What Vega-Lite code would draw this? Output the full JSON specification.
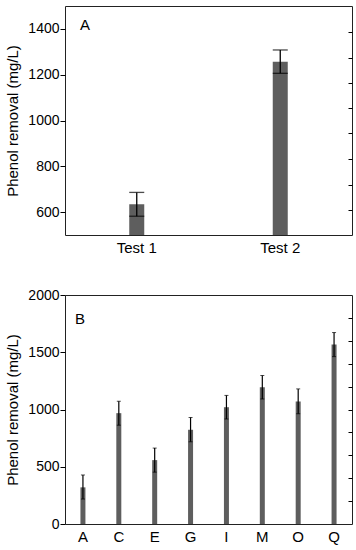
{
  "$schema": "https://vega.github.io/schema/vega-lite/v6.json",
  "background": "white",
  "padding": 5,
  "spacing": 31,
  "config": {
    "font": "Liberation Sans",
    "view": {"stroke": "#222", "strokeWidth": 1},
    "axis": {
      "grid": false,
      "domain": false,
      "labelFont": "Liberation Sans",
      "labelFontSize": 15,
      "labelColor": "#000",
      "titleFont": "Liberation Sans",
      "titleFontSize": 15,
      "titleFontWeight": "normal",
      "titleColor": "#000",
      "tickColor": "#000"
    }
  },
  "vconcat": [
    {
      "width": 287,
      "height": 229,
      "data": {"values": [
        {"test": "Test 1", "mean": 634, "lo": 582, "hi": 686},
        {"test": "Test 2", "mean": 1257, "lo": 1206, "hi": 1308}
      ]},
      "resolve": {"axis": {"y": "independent"}},
      "layer": [
        {
          "mark": {"type": "bar", "color": "#5e5e5e", "size": 15, "clip": true},
          "encoding": {
            "x": {"field": "test", "type": "nominal", "scale": {"paddingInner": 0, "paddingOuter": 0},
                  "axis": {"title": null, "labelAngle": 0, "ticks": false, "labelPadding": 5}},
            "y": {"field": "mean", "type": "quantitative", "scale": {"domain": [500, 1500], "nice": false, "zero": false},
                  "axis": {"orient": "left", "format": "d", "labelFontSize": 14, "title": "Phenol removal (mg/L)", "values": [600, 800, 1000, 1200, 1400], "tickSize": 5, "labelPadding": 1, "titlePadding": 7}}
          }
        },
        {
          "mark": {"type": "rule", "color": "#000", "strokeWidth": 1.3},
          "encoding": {
            "x": {"field": "test", "type": "nominal"},
            "y": {"field": "lo", "type": "quantitative", "axis": null},
            "y2": {"field": "hi"}
          }
        },
        {
          "mark": {"type": "tick", "color": "#000", "size": 15, "thickness": 1.3},
          "encoding": {
            "x": {"field": "test", "type": "nominal"},
            "y": {"field": "lo", "type": "quantitative",
                  "axis": {"orient": "right", "title": null, "labels": false, "tickSize": -4, "values": [610, 720, 830, 945, 1055, 1165, 1275, 1385]}}
          }
        },
        {
          "mark": {"type": "tick", "color": "#000", "size": 15, "thickness": 1.3},
          "encoding": {
            "x": {"field": "test", "type": "nominal"},
            "y": {"field": "hi", "type": "quantitative", "axis": null}
          }
        },
        {
          "data": {"values": [{"panel": "A"}]},
          "mark": {"type": "text", "align": "left", "baseline": "alphabetic", "fontSize": 15, "font": "Liberation Sans", "color": "#000", "dx": 15},
          "encoding": {
            "x": {"datum": "Test 1", "type": "nominal", "bandPosition": 0},
            "y": {"datum": 1394, "type": "quantitative", "axis": null},
            "text": {"field": "panel"}
          }
        }
      ]
    },
    {
      "width": 287,
      "height": 229,
      "data": {"values": [
        {"cat": "A", "mean": 320, "lo": 218, "hi": 428},
        {"cat": "C", "mean": 968, "lo": 863, "hi": 1072},
        {"cat": "E", "mean": 558, "lo": 453, "hi": 663},
        {"cat": "G", "mean": 823, "lo": 718, "hi": 930},
        {"cat": "I", "mean": 1020, "lo": 917, "hi": 1123},
        {"cat": "M", "mean": 1195, "lo": 1092, "hi": 1297},
        {"cat": "O", "mean": 1070, "lo": 963, "hi": 1180},
        {"cat": "Q", "mean": 1567, "lo": 1462, "hi": 1672}
      ]},
      "resolve": {"axis": {"y": "independent"}},
      "layer": [
        {
          "mark": {"type": "bar", "color": "#5e5e5e", "size": 5, "clip": true},
          "encoding": {
            "x": {"field": "cat", "type": "nominal", "sort": null, "scale": {"paddingInner": 0, "paddingOuter": 0},
                  "axis": {"title": null, "labelAngle": 0, "ticks": false, "labelPadding": 5}},
            "y": {"field": "mean", "type": "quantitative", "scale": {"domain": [0, 2000], "nice": false},
                  "axis": {"orient": "left", "format": "d", "labelFontSize": 14, "title": "Phenol removal (mg/L)", "values": [0, 500, 1000, 1500, 2000], "tickSize": 5, "labelPadding": 1, "titlePadding": 7}}
          }
        },
        {
          "mark": {"type": "rule", "color": "#000", "strokeWidth": 1.2},
          "encoding": {
            "x": {"field": "cat", "type": "nominal", "sort": null},
            "y": {"field": "lo", "type": "quantitative", "axis": null},
            "y2": {"field": "hi"}
          }
        },
        {
          "mark": {"type": "tick", "color": "#000", "size": 4, "thickness": 1},
          "encoding": {
            "x": {"field": "cat", "type": "nominal", "sort": null},
            "y": {"field": "lo", "type": "quantitative",
                  "axis": {"orient": "right", "title": null, "labels": false, "tickSize": -4, "values": [200, 400, 600, 800, 1000, 1200, 1400, 1600, 1800]}}
          }
        },
        {
          "mark": {"type": "tick", "color": "#000", "size": 4, "thickness": 1},
          "encoding": {
            "x": {"field": "cat", "type": "nominal", "sort": null},
            "y": {"field": "hi", "type": "quantitative", "axis": null}
          }
        },
        {
          "data": {"values": [{"panel": "B"}]},
          "mark": {"type": "text", "align": "left", "baseline": "alphabetic", "fontSize": 15, "font": "Liberation Sans", "color": "#000", "dx": 10},
          "encoding": {
            "x": {"datum": "A", "type": "nominal", "bandPosition": 0},
            "y": {"datum": 1750, "type": "quantitative", "axis": null},
            "text": {"field": "panel"}
          }
        }
      ]
    }
  ]
}
